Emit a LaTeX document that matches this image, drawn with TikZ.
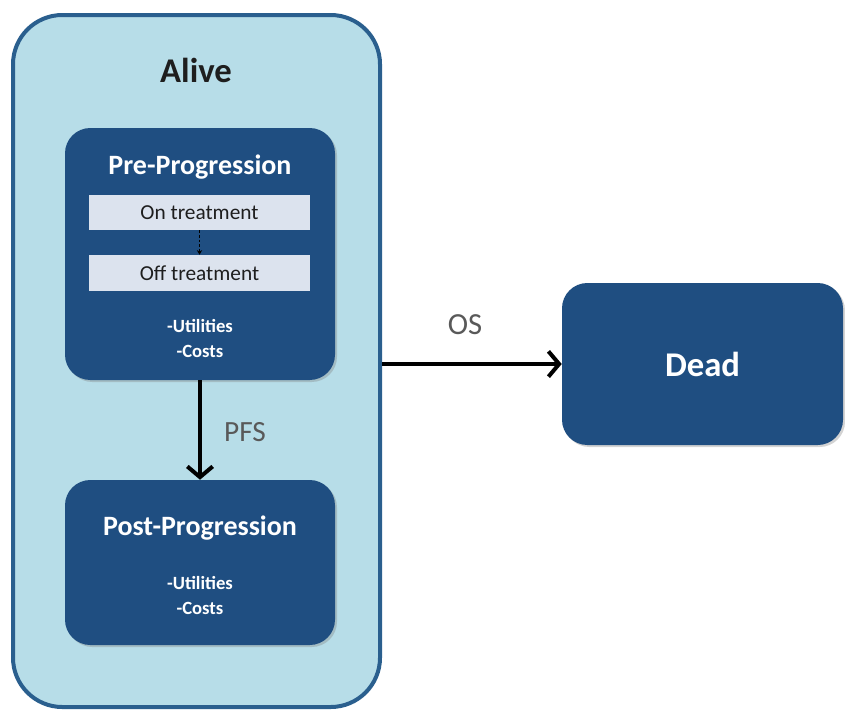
\documentclass[tikz,border=0pt]{standalone}
\usepackage{fontspec}
\setmainfont{Carlito}
\usetikzlibrary{arrows.meta,shadows}
\definecolor{alivefill}{HTML}{B7DDE8}
\definecolor{aliveedge}{HTML}{2A5F8E}
\definecolor{statefill}{HTML}{1F4E81}
\definecolor{subfill}{HTML}{DCE3EE}
\definecolor{labelgray}{HTML}{595959}
\definecolor{darktext}{HTML}{1E1E1E}
\begin{document}
\begin{tikzpicture}[x=0.75pt,y=-0.75pt,
  statebox/.style={draw=none, fill=statefill, rounded corners=19pt, inner sep=0pt,
    drop shadow={opacity=0.35, shadow xshift=1.5pt, shadow yshift=-1.5pt}},
  subbox/.style={draw=none, fill=subfill, inner sep=0pt, minimum width=165.75pt,
    font=\fontsize{16}{19}\selectfont, text=darktext},
  titletext/.style={text=white, font=\bfseries\fontsize{21}{25}\selectfont},
  smalltext/.style={text=white, align=center, font=\bfseries\fontsize{14}{18.75}\selectfont},
  edgelabel/.style={text=labelgray, font=\fontsize{22}{26}\selectfont},
  bigarrow/.style={draw=black, line width=3pt, -{Straight Barb[length=8pt,width=19pt,line width=3pt]}}
]
\useasboundingbox (0,0) rectangle (845,711);
\node[draw=aliveedge, line width=3pt, fill=alivefill, rounded corners=37pt,
  minimum width=275.25pt, minimum height=519pt, inner sep=0pt] (alive) at (196.5,361) {};
\node[text=darktext, font=\bfseries\fontsize{26}{30}\selectfont] (alivelbl) at (196,70) {Alive};

\node[statebox, minimum width=202.5pt, minimum height=189pt] (pre) at (200,254) {};
\node[titletext] (pretitle) at (200,167) {Pre-Progression};
\node[subbox, minimum height=26.25pt] (on) at (199.5,212.5) {On treatment};
\node[subbox, minimum height=27pt] (off) at (199.5,273) {Off treatment};
\node[smalltext] (preutil) at (200,338) {-Utilities\\-Costs};
\draw[black, line width=0.9pt, dash pattern=on 2pt off 1.5pt, -{Stealth[length=3.5pt,width=4pt]}] (on.south) -- (off.north);

\node[statebox, minimum width=202.5pt, minimum height=123.75pt] (post) at (200,562.5) {};
\node[titletext] (posttitle) at (200,528) {Post-Progression};
\node[smalltext] (postutil) at (200,595) {-Utilities\\-Costs};

\node[statebox, minimum width=210.75pt, minimum height=121.5pt, text=white,
  font=\bfseries\fontsize{26}{30}\selectfont] (dead) at (702.5,364) {Dead};

\draw[bigarrow] (pre.south) -- (post.north);
\node[edgelabel] (pfs) at (245,432) {PFS};
\draw[bigarrow] (dead.west -| alive.east) -- (dead.west);
\node[edgelabel, font=\fontsize{23}{27}\selectfont] (os) at (465,325) {OS};
\end{tikzpicture}
\end{document}
